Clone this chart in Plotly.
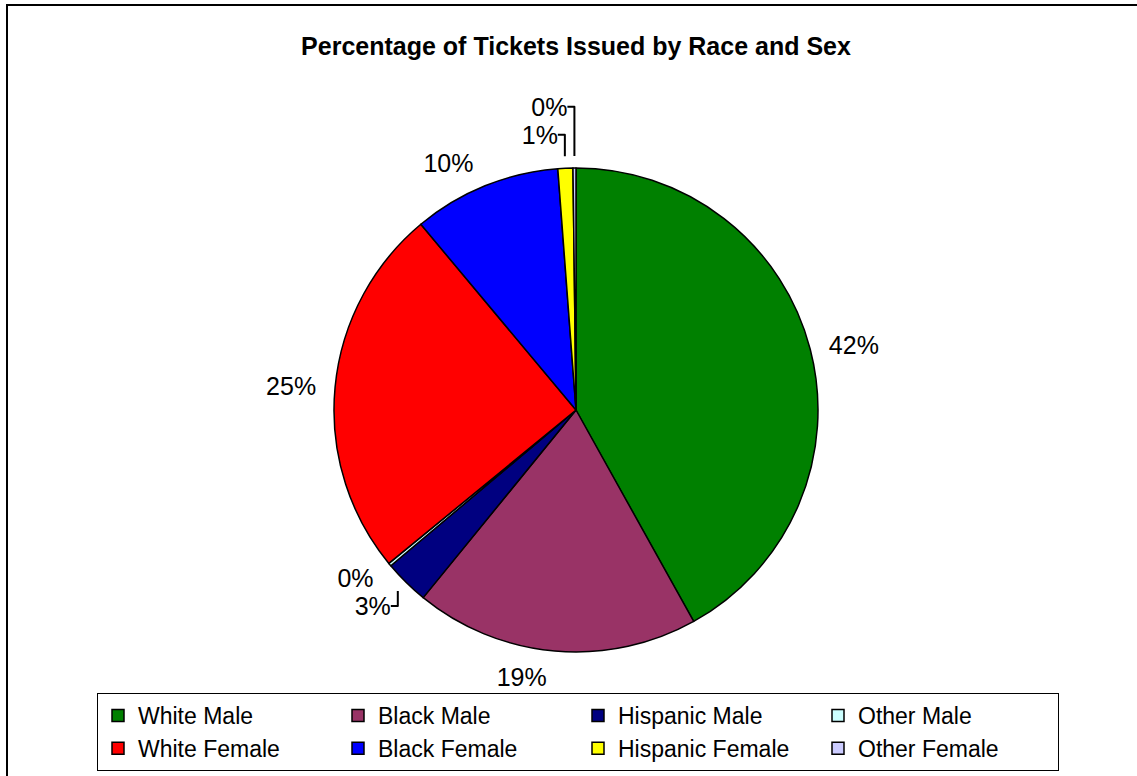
import plotly.graph_objects as go

categories = ["White Male", "Black Male", "Hispanic Male", "Other Male",
              "White Female", "Black Female", "Hispanic Female", "Other Female"]
shares = [42.0, 19.0, 3.0, 0.2, 24.9, 9.9, 1.0, 0.2]
colors = ["#008000", "#993366", "#000080", "#CCFFFF",
          "#FF0000", "#0000FF", "#FFFF00", "#CCCCFF"]
title_text = "Percentage of Tickets Issued by Race and Sex"

W, H = 1137, 776
FONT = "Liberation Sans, Arial"
cx, cy, r = 576, 410, 242      # pie centre / radius in pixels
lr = r + 12                     # radius of the (transparent) label ring


def dom(rad):
    return dict(x=[(cx - rad) / W, (cx + rad) / W],
                y=[1 - (cy + rad) / H, 1 - (cy - rad) / H])


# transparent, slightly larger pie used only to place the outside percentage labels
labels_pie = go.Pie(
    labels=categories, values=shares, sort=False, direction="clockwise", rotation=0,
    marker=dict(colors=["rgba(0,0,0,0)"] * len(categories), line=dict(width=0)),
    texttemplate="%{percent:.0%}", textposition="outside",
    textfont=dict(family=FONT, size=25, color="black"),
    domain=dom(lr), showlegend=False, hoverinfo="skip",
)

main_pie = go.Pie(
    labels=categories, values=shares, sort=False, direction="clockwise", rotation=0,
    marker=dict(colors=colors, line=dict(color="black", width=1.5)),
    textinfo="none",
    domain=dom(r), hoverinfo="label+percent",
)

fig = go.Figure([labels_pie, main_pie])

fig.update_layout(
    width=W, height=H,
    margin=dict(l=0, r=0, t=0, b=0),
    paper_bgcolor="white",
    plot_bgcolor="white",
    title=dict(text="<b>" + title_text + "</b>", x=576 / W, xanchor="center",
               y=1 - 46 / H, yanchor="middle",
               font=dict(family=FONT, size=25, color="black")),
    showlegend=True,
    legend=dict(orientation="h", x=97 / W, xanchor="left", y=(H - 771) / H, yanchor="bottom",
                bordercolor="black", borderwidth=1, bgcolor="white",
                entrywidth=195, entrywidthmode="pixels",
                font=dict(family=FONT, size=23, color="black"),
                itemwidth=30, traceorder="normal", tracegroupgap=0),
    shapes=[dict(type="rect", xref="paper", yref="paper",
                 x0=7 / W, x1=1.02, y0=-0.05, y1=1 - 5 / H,
                 line=dict(color="black", width=2))],
)

fig.write_html("out.html", config={"displayModeBar": False},
               post_script="document.body.style.margin='0';")
